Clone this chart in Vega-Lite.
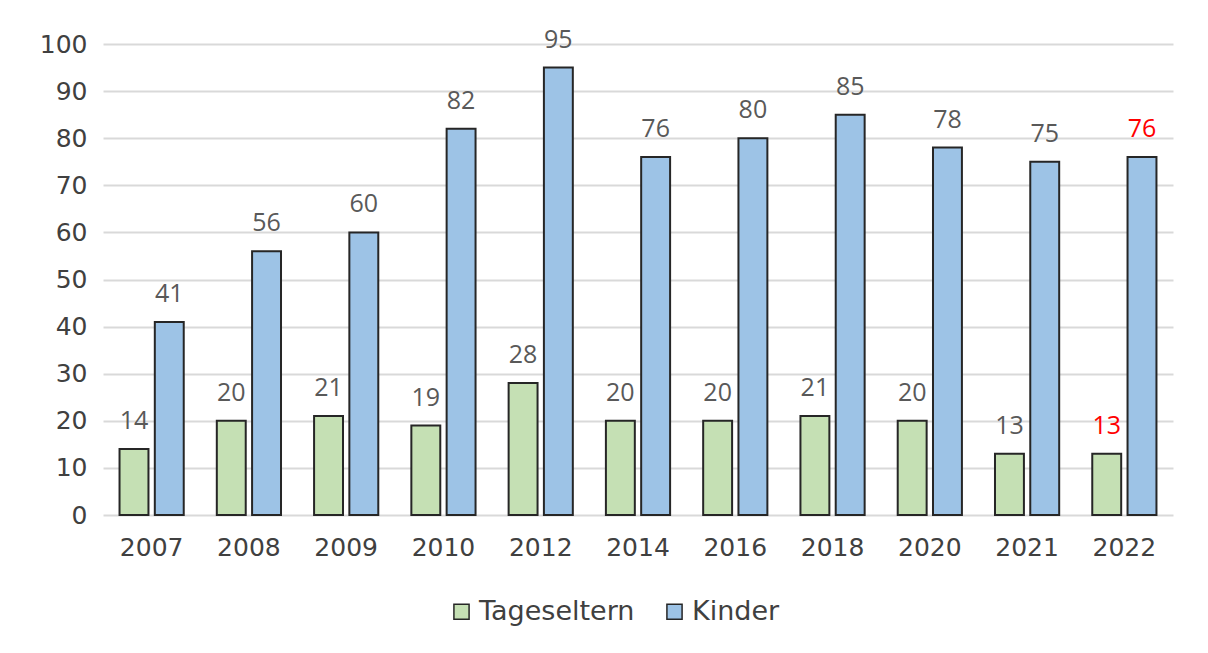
{
  "$schema": "https://vega.github.io/schema/vega-lite/v6.json",
  "autosize": {"type": "none"},
  "width": 1070,
  "height": 471,
  "padding": {"left": 103, "top": 44, "right": 35, "bottom": 138},
  "background": "white",
  "config": {"view": {"stroke": null}, "font": "DejaVu Sans"},
  "data": {"values": [
    {"year": "2007", "series": "Tageseltern", "value": 14},
    {"year": "2007", "series": "Kinder", "value": 41},
    {"year": "2008", "series": "Tageseltern", "value": 20},
    {"year": "2008", "series": "Kinder", "value": 56},
    {"year": "2009", "series": "Tageseltern", "value": 21},
    {"year": "2009", "series": "Kinder", "value": 60},
    {"year": "2010", "series": "Tageseltern", "value": 19},
    {"year": "2010", "series": "Kinder", "value": 82},
    {"year": "2012", "series": "Tageseltern", "value": 28},
    {"year": "2012", "series": "Kinder", "value": 95},
    {"year": "2014", "series": "Tageseltern", "value": 20},
    {"year": "2014", "series": "Kinder", "value": 76},
    {"year": "2016", "series": "Tageseltern", "value": 20},
    {"year": "2016", "series": "Kinder", "value": 80},
    {"year": "2018", "series": "Tageseltern", "value": 21},
    {"year": "2018", "series": "Kinder", "value": 85},
    {"year": "2020", "series": "Tageseltern", "value": 20},
    {"year": "2020", "series": "Kinder", "value": 78},
    {"year": "2021", "series": "Tageseltern", "value": 13},
    {"year": "2021", "series": "Kinder", "value": 75},
    {"year": "2022", "series": "Tageseltern", "value": 13},
    {"year": "2022", "series": "Kinder", "value": 76}
  ]},
  "encoding": {
    "x": {
      "field": "year", "type": "nominal",
      "scale": {"paddingInner": 0.34, "paddingOuter": 0.17},
      "axis": {
        "title": null, "labelAngle": 0, "labelFontSize": 25, "labelColor": "#404040",
        "domain": false, "ticks": false, "labelPadding": 20, "grid": false
      }
    },
    "xOffset": {
      "field": "series", "type": "nominal", "sort": ["Tageseltern", "Kinder"],
      "scale": {"paddingInner": 0.18, "paddingOuter": 0}
    },
    "y": {
      "field": "value", "type": "quantitative",
      "scale": {"domain": [0, 100], "nice": false},
      "axis": {
        "title": null, "values": [0, 10, 20, 30, 40, 50, 60, 70, 80, 90, 100],
        "labelFontSize": 25, "labelColor": "#404040", "domain": false, "ticks": false,
        "labelPadding": 16, "gridColor": "#d9d9d9", "gridWidth": 2
      }
    }
  },
  "layer": [
    {
      "mark": {"type": "bar", "stroke": "#262626", "strokeWidth": 2},
      "encoding": {
        "color": {
          "field": "series", "type": "nominal", "sort": ["Tageseltern", "Kinder"],
          "scale": {"domain": ["Tageseltern", "Kinder"], "range": ["#c5e0b4", "#9dc3e6"]},
          "legend": {
            "title": null, "orient": "none", "direction": "horizontal",
            "legendX": 345, "legendY": 554,
            "symbolType": "square", "symbolSize": 230, "symbolStrokeColor": "#262626",
            "symbolStrokeWidth": 1.5, "labelFontSize": 27, "labelColor": "#404040",
            "columnPadding": 26, "labelOffset": 4
          }
        }
      }
    },
    {
      "mark": {"type": "text", "baseline": "alphabetic", "dy": -20, "fontSize": 25, "font": "Open Sans"},
      "encoding": {
        "text": {"field": "value", "type": "quantitative"},
        "color": {
          "condition": {"test": "datum.year === '2022'", "value": "#ff0000"},
          "value": "#595959"
        }
      }
    }
  ]
}
